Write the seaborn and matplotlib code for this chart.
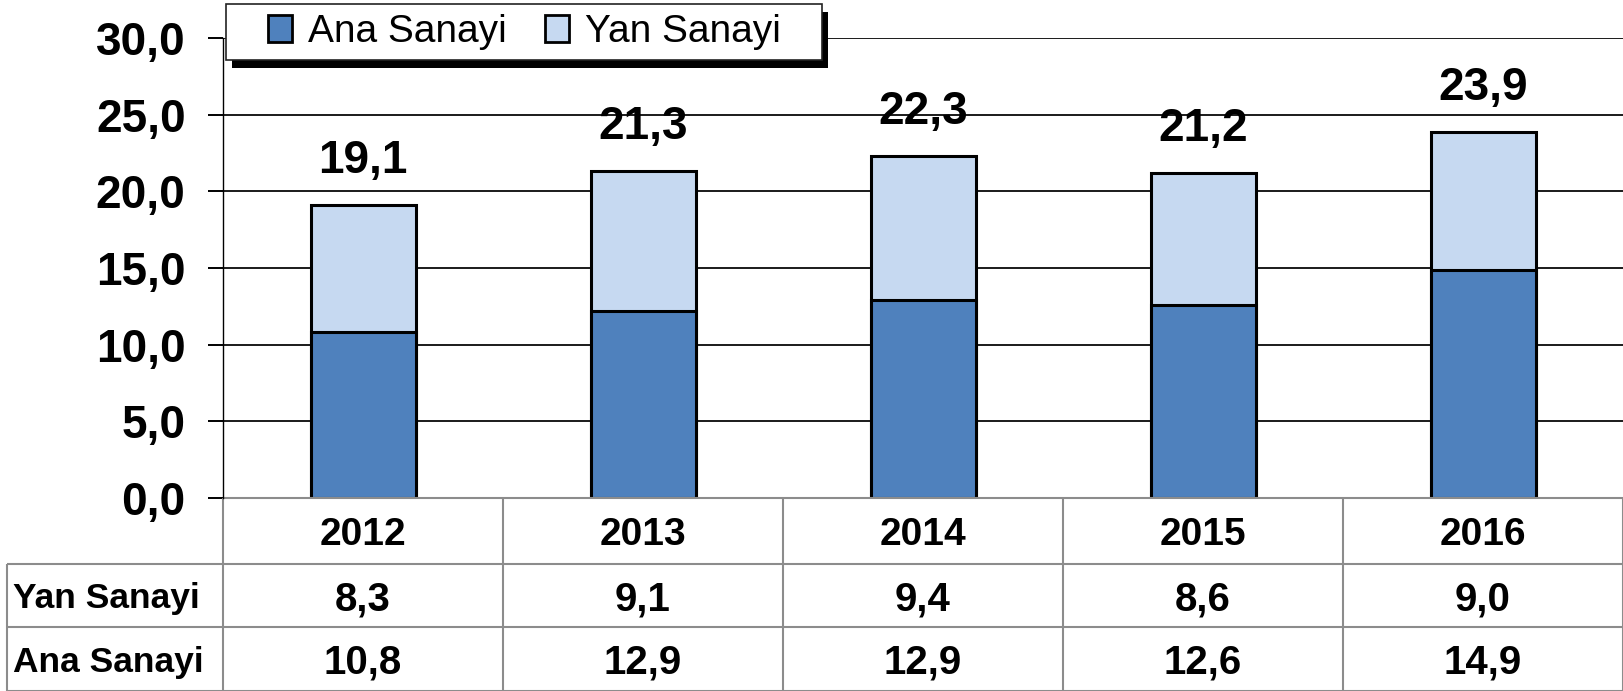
import matplotlib
matplotlib.use("Agg")
import matplotlib.pyplot as plt
import matplotlib.transforms as mtransforms
from matplotlib.patches import Patch, Rectangle
import pandas as pd
import seaborn as sns

# Data
years = ['2012', '2013', '2014', '2015', '2016']
ana_sanayi = [10.8, 12.2, 12.9, 12.6, 14.9]
yan_sanayi = [8.3, 9.1, 9.4, 8.6, 9.0]
# Table row as printed in the source (2013 reads 12,9 there)
ana_table = ['10,8', '12,9', '12,9', '12,6', '14,9']

ANA_C = '#4F81BD'
YAN_C = '#C6D9F1'
GRID_C = '#8c8c8c'


def tr(v):
    return f"{v:.1f}".replace('.', ',')


df = pd.DataFrame({'Yil': years, 'Ana': ana_sanayi, 'Yan': yan_sanayi})
df['Toplam'] = (df['Ana'] + df['Yan']).round(1)

sns.set_style("white")
plt.rcParams['font.family'] = ['Liberation Sans', 'DejaVu Sans']
plt.rcParams['text.color'] = 'black'
plt.rcParams['ytick.color'] = 'black'
plt.rcParams['xtick.color'] = 'black'

W, H = 1623, 691
fig = plt.figure(figsize=(W / 100, H / 100), dpi=100)
ax = fig.add_axes([223 / W, 1 - 498 / H, 1 - 223 / W, 460 / H])

ax.yaxis.grid(True, color='#1a1a1a', lw=1.4)
ax.set_axisbelow(True)

# stacked bars: total behind, Ana Sanayi in front
sns.barplot(data=df, x='Yil', y='Toplam', color=YAN_C, saturation=1, width=0.375,
            edgecolor='black', linewidth=2.2, errorbar=None, ax=ax)
sns.barplot(data=df, x='Yil', y='Ana', color=ANA_C, saturation=1, width=0.375,
            edgecolor='black', linewidth=2.2, errorbar=None, ax=ax)

ax.set_xlim(-0.5, 4.5)
ax.set_ylim(0, 30)
ax.set_yticks(range(0, 31, 5))
ax.set_yticklabels([tr(v) for v in range(0, 31, 5)], fontsize=33, fontweight='bold')
ax.tick_params(axis='y', length=11, width=1.4, pad=16, color='black', left=True)
ax.tick_params(axis='x', length=0, labelbottom=False)
ax.set_xlabel('')
ax.set_ylabel('')
for s in ['top', 'right', 'bottom']:
    ax.spines[s].set_visible(False)
ax.spines['left'].set_color('black')
ax.spines['left'].set_linewidth(1.0)

# totals above bars
for i, t in enumerate(df['Toplam']):
    ax.annotate(tr(t), xy=(i, t), xytext=(0, 23), textcoords='offset points',
                ha='center', va='baseline', fontsize=33, fontweight='bold')

# data table under the chart
trans = mtransforms.blended_transform_factory(ax.transData, ax.transAxes)
row_y = [0, -0.1435, -0.2804, -0.4196]
x_left = -1.271
line_kw = dict(color=GRID_C, lw=1.5, clip_on=False, transform=trans, solid_capstyle='butt')
ax.plot([-0.5, 4.5], [0, 0], **line_kw)
for y in row_y[1:]:
    ax.plot([x_left, 4.5], [y, y], **line_kw)
for i in range(len(years) + 1):
    ax.plot([i - 0.5, i - 0.5], [0, row_y[3]], **line_kw)
ax.plot([x_left, x_left], [row_y[1], row_y[3]], **line_kw)

mid = [(row_y[k] + row_y[k + 1]) / 2 for k in range(3)]
for i, yr in enumerate(years):
    ax.text(i, mid[0], yr, transform=trans, ha='center', va='center_baseline',
            fontsize=28, fontweight='bold')
    ax.text(i, mid[1], tr(yan_sanayi[i]), transform=trans, ha='center', va='center_baseline',
            fontsize=29, fontweight='bold')
    ax.text(i, mid[2], ana_table[i], transform=trans, ha='center', va='center_baseline',
            fontsize=29, fontweight='bold')
ax.text(x_left + 0.022, mid[1], 'Yan Sanayi', transform=trans, ha='left', va='center_baseline',
        fontsize=25.5, fontweight='bold')
ax.text(x_left + 0.022, mid[2], 'Ana Sanayi', transform=trans, ha='left', va='center_baseline',
        fontsize=25.5, fontweight='bold')

# legend with a hard black shadow
handles = [Patch(facecolor=ANA_C, edgecolor='black', lw=2, label='Ana Sanayi'),
           Patch(facecolor=YAN_C, edgecolor='black', lw=2, label='Yan Sanayi')]
leg = fig.legend(handles=handles, loc='center left', bbox_to_anchor=(268 / W, 1 - 32 / H),
                 frameon=False, ncol=2, borderpad=0, borderaxespad=0,
                 handlelength=0.62, handleheight=0.69, handletextpad=0.41, columnspacing=0.98,
                 prop={'size': 28})
leg.set_zorder(6)
fig.canvas.draw()
bb = leg.get_window_extent()
x0, x1 = bb.x0 - 42, bb.x1 + 41
yc = (bb.y0 + bb.y1) / 2
ident = mtransforms.IdentityTransform()
fig.add_artist(Rectangle((x0 + 6, yc - 28 - 8), x1 - x0, 56, facecolor='black',
                         edgecolor='none', transform=ident, zorder=4))
fig.add_artist(Rectangle((x0, yc - 28), x1 - x0, 56, facecolor='white',
                         edgecolor='#222222', lw=1.2, transform=ident, zorder=5))

fig.savefig('out.png', dpi=100)
